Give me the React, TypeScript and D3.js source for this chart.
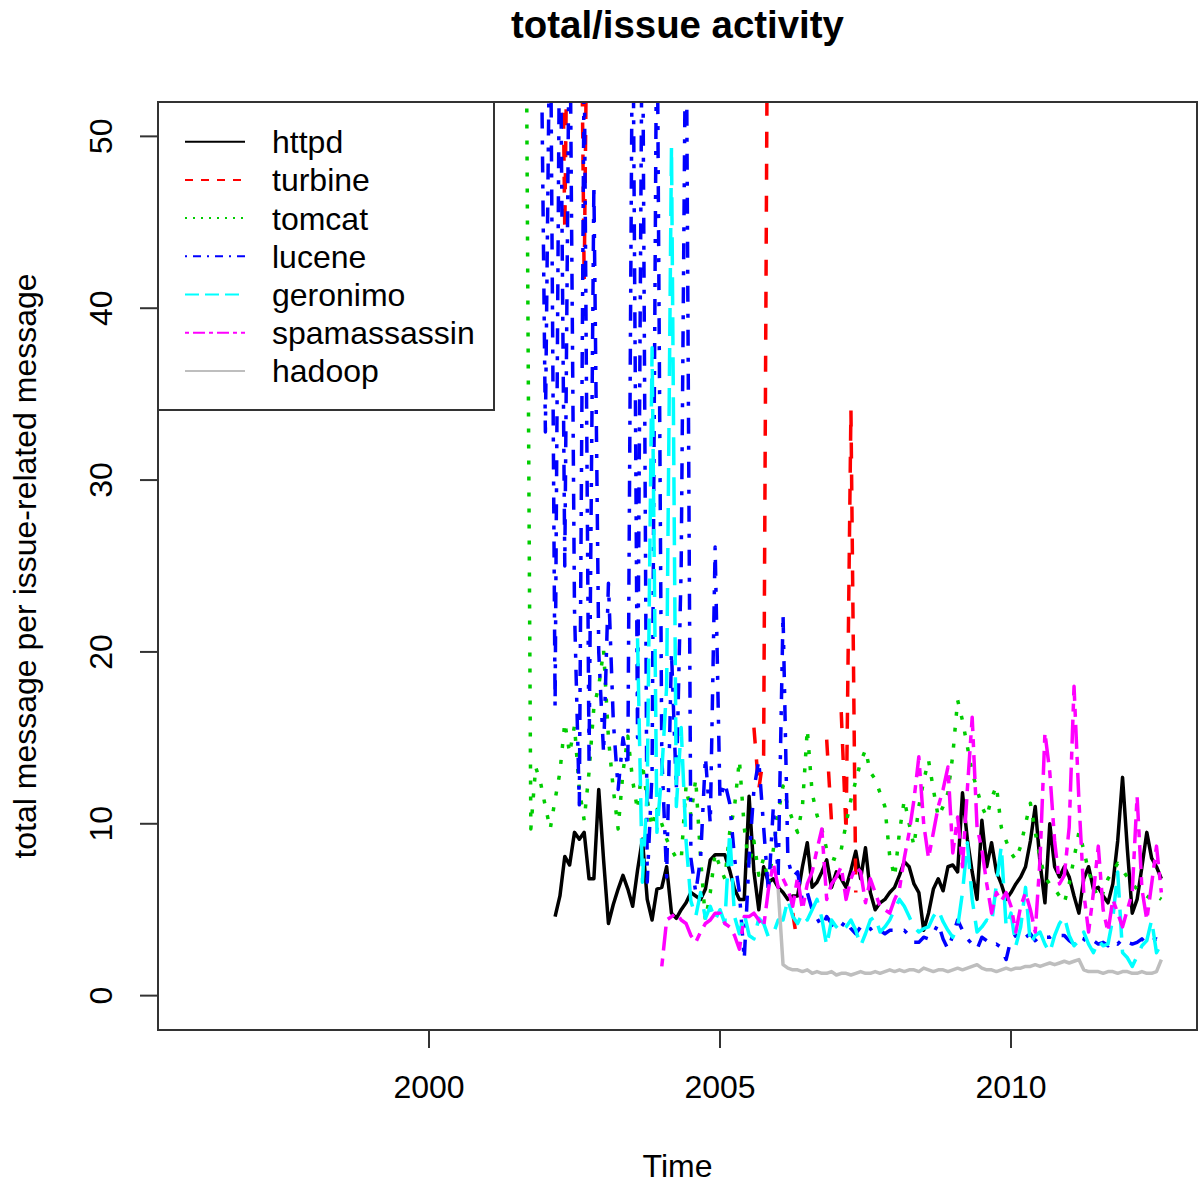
import React, { useRef, useEffect } from "react";
import * as d3 from "d3";

// monthly series, [year, month] of first value
const httpdStart = [2002, 3];
const httpd = [4.6, 5.8, 8.1, 7.6, 9.5, 9.1, 9.5, 6.8, 6.8, 12.0, 7.9, 4.2, 5.3, 6.2, 7.0, 6.2, 5.2, 7.3, 9.1, 5.6,
  4.4, 6.2, 6.3, 7.5, 4.8, 4.5, 5.0, 5.4, 6.0, 5.8, 5.6, 6.2, 7.9, 8.2, 8.2, 8.2, 7.3, 6.2, 5.6, 5.6,
  11.6, 7.2, 5.0, 7.5, 6.6, 6.8, 6.3, 6.0, 5.6, 5.8, 5.8, 7.5, 8.9, 6.3, 6.6, 7.2, 7.9, 6.3, 7.2, 6.8,
  6.3, 7.3, 8.4, 6.8, 8.6, 6.0, 5.0, 5.4, 5.6, 6.0, 6.3, 7.0, 7.8, 7.5, 6.5, 6.0, 3.8, 4.8, 6.2, 6.8,
  6.1, 7.5, 7.6, 7.2, 11.8, 9.1, 7.2, 5.6, 10.2, 7.5, 8.9, 7.2, 6.5, 5.6, 6.0, 6.5, 6.9, 7.5, 9.0, 11.0,
  7.7, 5.4, 10.0, 7.5, 6.9, 7.5, 6.9, 5.8, 4.8, 6.8, 7.5, 6.2, 6.3, 5.8, 5.4, 6.5, 9.0, 12.7, 8.5, 4.8,
  5.6, 7.5, 9.5, 8.0, 7.5, 6.8];

// turbine has months with no issue messages (infinite ratio), so it is kept in pieces
const turbineSegments = [
  { start: [2002, 4], values: [70, 44.5, 70, 70, 70, 41.6, 70] },
  { start: [2005, 8], values: [15.6, 12.0, 14.0, 70] },
  { start: [2006, 4], values: [4.8, 3.0] },
  { start: [2006, 11], values: [14.9, 10.1] },
  { start: [2007, 2], values: [16.5, 9.5, 34.1, 6.0] },
];

const tomcatStart = [2001, 9];
const tomcat = [60, 9.7, 13.3, 12.4, 11.0, 9.7, 11.4, 13.0, 15.9, 14.1, 15.7, 12.0, 10.2, 13.0, 16.8, 18.0, 20.1, 15.0, 12.0, 9.7,
  13.0, 15.1, 12.5, 10.8, 13.5, 11.4, 9.8, 11.0, 10.0, 9.1, 8.5, 8.0, 7.9, 12.2, 10.5, 12.6, 8.0, 4.4, 6.0, 8.3,
  7.5, 6.8, 9.5, 11.0, 13.7, 9.8, 7.5, 9.0, 7.0, 8.0, 6.5, 8.5, 10.6, 12.2, 11.0, 10.2, 9.5, 11.0, 15.5, 11.8,
  10.5, 9.7, 8.5, 8.0, 7.9, 8.5, 10.0, 11.4, 12.5, 13.6, 14.3, 13.0, 12.6, 11.8, 11.0, 8.1, 6.9, 9.5, 11.4, 10.0,
  8.7, 11.0, 12.5, 13.7, 12.0, 10.4, 11.0, 11.8, 14.0, 17.2, 16.0, 14.5, 13.0, 12.0, 11.0, 10.4, 11.5, 12.2, 9.8, 9.0,
  8.3, 7.9, 8.7, 10.0, 11.2, 9.5, 8.0, 6.9, 6.5, 6.2, 5.8, 5.4, 6.5, 8.0, 9.5, 8.5, 7.2, 6.4, 5.6, 6.0,
  6.8, 7.2, 7.7, 7.3, 6.9, 6.5, 6.2, 6.0, 5.8, 5.6, 5.8, 5.6];

const luceneStart = [2001, 12];
const lucene = [60, 32.8, 60, 16.8, 60, 25, 60, 22.5, 11.1, 55, 13.6, 47.2, 20, 14.1, 24, 16, 12, 15, 13.3, 60,
  15, 60, 6.6, 13, 60, 14, 6.9, 20, 12, 25, 60, 8, 6, 8, 13.9, 10, 26.1, 11.4, 12.4, 11.2,
  8, 6, 2.1, 8, 12, 13.7, 9.8, 6, 11, 7, 22.2, 7.9, 6.9, 7.2, 5.5, 6.0, 5.0, 4.5, 4.0, 4.6,
  4.2, 3.8, 4.0, 4.4, 3.9, 3.6, 4.0, 3.7, 3.9, 3.5, 3.8, 3.6, 3.8, 3.8, 3.7, 3.8, 3.5, 3.1, 3.1, 3.4,
  3.3, 3.6, 4.2, 3.3, 2.7, 3.5, 4.4, 3.8, 3.3, 3.0, 2.7, 3.4, 3.2, 2.9, 3.0, 2.8, 2.1, 3.3, 3.5, 3.7,
  3.4, 3.6, 3.2, 3.5, 3.4, 3.4, 3.6, 3.5, 3.5, 3.2, 3.0, 3.4, 3.3, 3.0, 3.2, 3.0, 3.1, 2.9, 3.2, 3.0,
  3.3, 3.1, 3.0, 3.1, 3.3, 3.0, 3.2, 3.3, 3.0];

const geronimoStart = [2003, 8];
const geronimo = [20.8, 6.6, 12, 37.7, 9.5, 13, 18, 49.4, 11, 15.6, 9, 5.5, 4.6, 6, 4.5, 5.2, 4.4, 5, 4.2, 9.5,
  4.6, 3.6, 4.8, 3.5, 3.3, 4.5, 4.2, 3.4, 3.6, 4.4, 4.4, 5.6, 4.6, 4.2, 4.8, 4.4, 5.0, 5.6, 4.5, 2.9,
  4.4, 4.0, 3.7, 4.0, 4.4, 3.8, 2.9, 3.6, 4.4, 4.6, 3.7, 4.0, 4.4, 5.0, 5.6, 5.2, 4.6, 4.0, 3.7, 3.9,
  4.0, 4.6, 5.0, 4.3, 3.8, 3.4, 4.0, 6.0, 8.9, 5.6, 3.7, 4.0, 4.4, 4.2, 6.5, 8.7, 4.0, 4.8, 2.9, 4.0,
  6.3, 3.0, 3.5, 3.7, 3.0, 2.5, 3.5, 4.2, 4.6, 3.5, 2.9, 3.2, 3.7, 3.0, 2.5, 3.2, 2.9, 3.0, 4.5, 7.2,
  2.5, 2.2, 1.7, 2.3, 2.9, 3.2, 4.4, 2.5, 3.0];

const spamStart = [2004, 1];
const spamassassin = [1.7, 4.4, 4.6, 4.8, 4.4, 4.2, 3.5, 3.1, 3.7, 4.2, 4.4, 4.8, 4.8, 4.2, 4.0, 3.5, 2.7, 4.6, 4.6, 4.8,
  4.4, 4.0, 6.2, 7.7, 6.3, 6.8, 6.2, 5.2, 6.9, 5.0, 6.5, 7.2, 8.5, 9.7, 5.6, 6.5, 6.9, 7.5, 5.6, 6.8,
  7.5, 7.2, 5.4, 6.8, 6.0, 5.2, 5.0, 4.8, 5.6, 6.2, 8.0, 9.5, 11.4, 13.9, 10.0, 8.0, 9.5, 11.0, 12.0, 13.3,
  8.3, 10.4, 7.5, 12.0, 16.2, 9.8, 8.5, 6.5, 4.8, 6.0, 5.5, 6.0, 5.2, 3.7, 5.2, 6.0, 5.0, 3.7, 8.0, 15.3,
  13.0, 9.0, 6.5, 7.0, 9.8, 18.0, 11.4, 6.0, 3.7, 6.0, 8.7, 5.0, 3.7, 5.6, 4.8, 4.0, 5.0, 6.0, 11.6, 6.2,
  4.4, 6.5, 8.7, 6.0];

const hadoopStart = [2006, 1];
const hadoop = [6.2, 1.8, 1.6, 1.5, 1.5, 1.4, 1.5, 1.3, 1.4, 1.3, 1.3, 1.4, 1.2, 1.3, 1.3, 1.2, 1.3, 1.4, 1.3, 1.3,
  1.4, 1.3, 1.4, 1.5, 1.4, 1.5, 1.4, 1.5, 1.5, 1.4, 1.6, 1.5, 1.4, 1.5, 1.5, 1.4, 1.5, 1.6, 1.5, 1.6,
  1.7, 1.8, 1.6, 1.5, 1.5, 1.4, 1.5, 1.6, 1.5, 1.6, 1.6, 1.7, 1.7, 1.8, 1.7, 1.8, 1.9, 1.8, 1.9, 2.0,
  1.9, 2.0, 2.1, 1.5, 1.4, 1.4, 1.4, 1.3, 1.4, 1.4, 1.3, 1.4, 1.4, 1.3, 1.3, 1.4, 1.3, 1.3, 1.4, 2.1];

const seriesNames = ["httpd", "turbine", "tomcat", "lucene", "geronimo", "spamassassin", "hadoop"];
const seriesColors = ["#000000", "#FF0000", "#00CD00", "#0000FF", "#00FFFF", "#FF00FF", "#BEBEBE"];
// R lty patterns in line-width units
const seriesLty = [null, [4, 4], [1, 3], [1, 3, 4, 3], [7, 3], [2, 2, 6, 2], null];

const xTicks = [2000, 2005, 2010];
const yTicks = [0, 10, 20, 30, 40, 50];

const FONT = "'Liberation Sans', Arial, Helvetica, sans-serif";

function monthly(start, values) {
  return values.map((v, i) => ({ t: start[0] + (start[1] - 1 + i) / 12, v }));
}

function App() {
  const svgRef = useRef();

  useEffect(() => {
    const svg = d3.select(svgRef.current);
    svg.selectAll("*").remove();

    const left = 158, right = 1197, top = 102, bottom = 1030;

    const x = d3.scaleLinear().domain([1995.344, 2013.196]).range([left, right]);
    const y = d3.scaleLinear().domain([-2, 52]).range([bottom, top]);

    svg.append("rect").attr("width", 1199).attr("height", 1183).style("fill", "#fff");

    svg.append("defs").append("clipPath").attr("id", "plotclip")
      .append("rect")
      .attr("x", left).attr("y", top)
      .attr("width", right - left).attr("height", bottom - top);

    const line = d3.line()
      .defined((d) => d.v != null)
      .x((d) => x(d.t))
      .y((d) => y(d.v));

    const lines = [
      [monthly(httpdStart, httpd)],
      turbineSegments.map((s) => monthly(s.start, s.values)),
      [monthly(tomcatStart, tomcat)],
      [monthly(luceneStart, lucene)],
      [monthly(geronimoStart, geronimo)],
      [monthly(spamStart, spamassassin)],
      [monthly(hadoopStart, hadoop)],
    ];

    const plotLwd = 4;
    const g = svg.append("g").attr("clip-path", "url(#plotclip)");
    lines.forEach((segs, i) => {
      segs.forEach((pts) => {
        g.append("path")
          .attr("d", line(pts))
          .style("fill", "none")
          .style("stroke", seriesColors[i])
          .style("stroke-width", 3.5)
          .style("stroke-linejoin", "round")
          .style("stroke-dasharray", seriesLty[i] ? seriesLty[i].map((d) => d * plotLwd).join(",") : null);
      });
    });

    // box
    svg.append("rect")
      .attr("x", left).attr("y", top)
      .attr("width", right - left).attr("height", bottom - top)
      .style("fill", "none").style("stroke", "#333").style("stroke-width", 2);

    // x axis
    const tick = 18;
    svg.append("line")
      .attr("x1", x(xTicks[0])).attr("x2", x(xTicks[xTicks.length - 1]))
      .attr("y1", bottom).attr("y2", bottom)
      .style("stroke", "#333").style("stroke-width", 2);
    svg.selectAll(".xtick").data(xTicks).enter().append("line")
      .attr("x1", (d) => x(d)).attr("x2", (d) => x(d))
      .attr("y1", bottom).attr("y2", bottom + tick)
      .style("stroke", "#333").style("stroke-width", 2);
    svg.selectAll(".xlab").data(xTicks).enter().append("text")
      .attr("x", (d) => x(d)).attr("y", 1098)
      .attr("text-anchor", "middle")
      .style("font-family", FONT).style("font-size", "32px")
      .text((d) => d);

    // y axis
    svg.append("line")
      .attr("x1", left).attr("x2", left)
      .attr("y1", y(yTicks[0])).attr("y2", y(yTicks[yTicks.length - 1]))
      .style("stroke", "#333").style("stroke-width", 2);
    svg.selectAll(".ytick").data(yTicks).enter().append("line")
      .attr("x1", left - tick).attr("x2", left)
      .attr("y1", (d) => y(d)).attr("y2", (d) => y(d))
      .style("stroke", "#333").style("stroke-width", 2);
    svg.selectAll(".ylab").data(yTicks).enter().append("text")
      .attr("transform", (d) => `translate(111.5,${y(d)}) rotate(-90)`)
      .attr("text-anchor", "middle")
      .style("font-family", FONT).style("font-size", "32px")
      .text((d) => d);

    // titles
    svg.append("text")
      .attr("x", (left + right) / 2).attr("y", 38)
      .attr("text-anchor", "middle")
      .style("font-family", FONT).style("font-size", "38.4px").style("font-weight", "bold")
      .text("total/issue activity");
    svg.append("text")
      .attr("x", (left + right) / 2).attr("y", 1177)
      .attr("text-anchor", "middle")
      .style("font-family", FONT).style("font-size", "32px")
      .text("Time");
    svg.append("text")
      .attr("transform", `translate(36,${(top + bottom) / 2}) rotate(-90)`)
      .attr("text-anchor", "middle")
      .style("font-family", FONT).style("font-size", "32px")
      .text("total message per issue-related message");

    // legend
    const lg = svg.append("g");
    lg.append("rect")
      .attr("x", left).attr("y", top)
      .attr("width", 494 - left).attr("height", 410 - top)
      .style("fill", "#fff").style("stroke", "#333").style("stroke-width", 2);
    const legendLwd = 2;
    seriesNames.forEach((name, i) => {
      const ly = 141.7 + i * 38.2;
      lg.append("line")
        .attr("x1", 185).attr("x2", 245).attr("y1", ly).attr("y2", ly)
        .style("stroke", seriesColors[i])
        .style("stroke-width", 2)
        .style("stroke-dasharray", seriesLty[i] ? seriesLty[i].map((d) => d * legendLwd).join(",") : null);
      lg.append("text")
        .attr("x", 272).attr("y", ly + 11.5)
        .style("font-family", FONT).style("font-size", "32px")
        .style("fill", "#000")
        .text(name);
    });
  }, []);

  return (
    <svg
      ref={svgRef}
      width={1199}
      height={1183}
      style={{ position: "absolute", left: 0, top: 0, display: "block" }}
    />
  );
}

export default App;
